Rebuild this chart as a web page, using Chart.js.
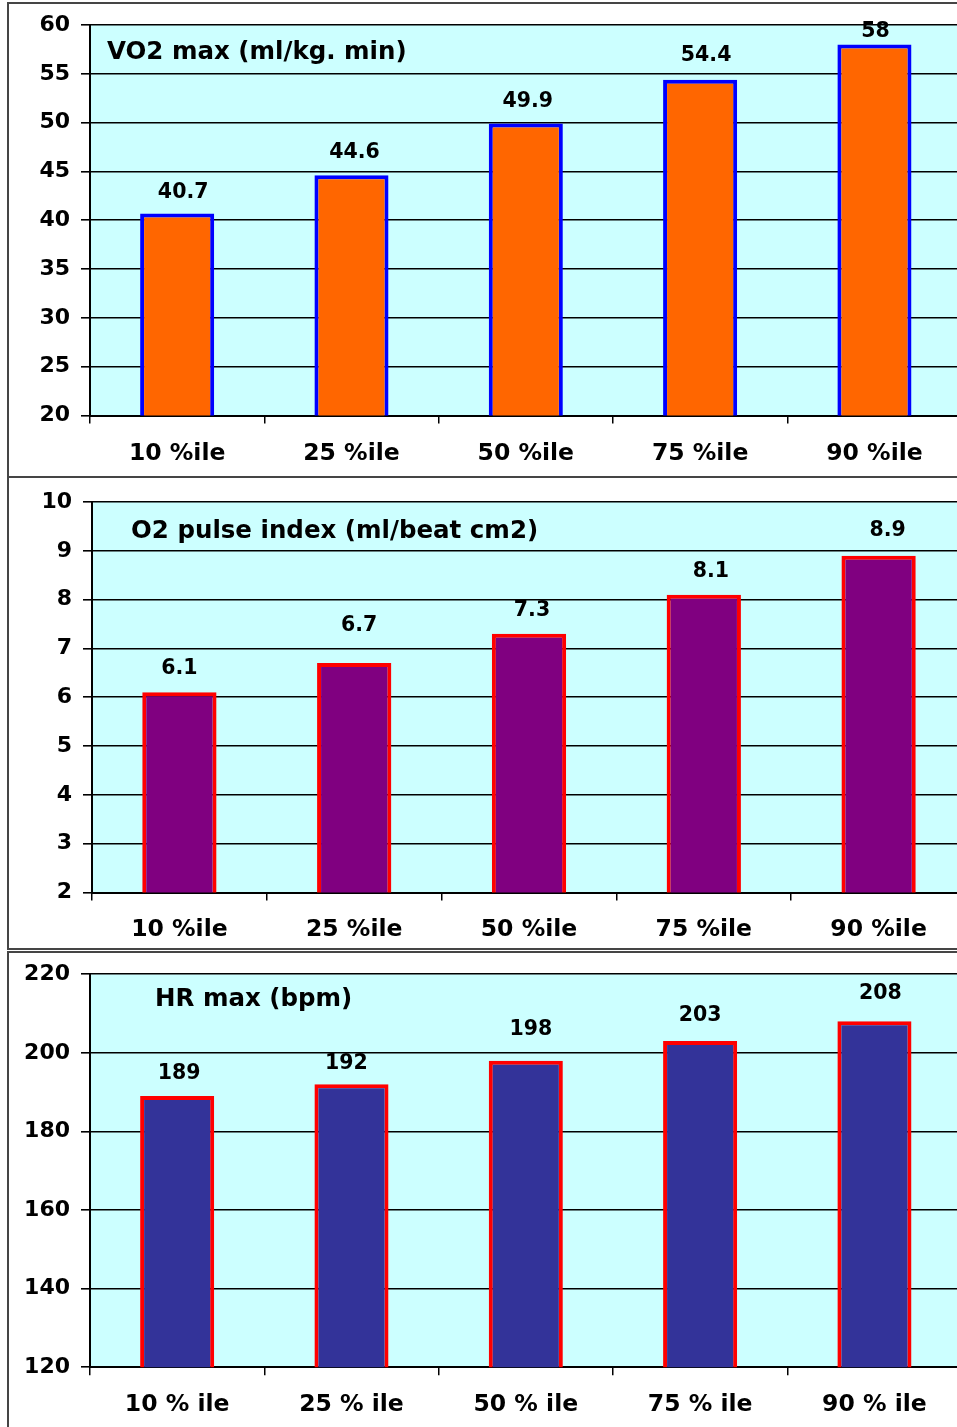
<!DOCTYPE html>
<html>
<head>
<meta charset="utf-8">
<title>Percentile charts</title>
<script src="https://cdn.jsdelivr.net/npm/chart.js@4.4.1/dist/chart.umd.min.js"></script>
<style>
  html, body { margin: 0; padding: 0; background: #fff; overflow: hidden; width: 957px; height: 1427px; }
  .frame { position: absolute; box-sizing: border-box; border: 2px solid #454545; left: 7px; width: 1000px; }
  canvas { position: absolute; left: 0; }
</style>
</head>
<body>
<div class="frame" style="top:2px;height:476px"></div>
<div class="frame" style="top:476px;height:474px"></div>
<div class="frame" style="top:951px;height:600px"></div>
<canvas id="vo2" width="975" height="476" style="top:0px"></canvas>
<canvas id="o2" width="975" height="474" style="top:476px"></canvas>
<canvas id="hr" width="975" height="477" style="top:950px"></canvas>
<script>
// ---- data ----
const percentileLabels = ['10 %ile', '25 %ile', '50 %ile', '75 %ile', '90 %ile'];
const percentileLabelsSpaced = ['10 % ile', '25 % ile', '50 % ile', '75 % ile', '90 % ile'];

const vo2Values = [40.7, 44.6, 49.9, 54.4, 58];
const o2PulseValues = [6.1, 6.7, 7.3, 8.1, 8.9];
const hrValues = [189, 192, 198, 203, 208];

// axis ranges: [min, max, step]
const vo2Axis = [20, 60, 5];
const o2PulseAxis = [2, 10, 1];
const hrAxis = [120, 220, 20];

const vo2Title = 'VO2 max (ml/kg. min)';
const o2PulseTitle = 'O2 pulse index (ml/beat cm2)';
const hrTitle = 'HR max (bpm)';

// ---- drawing helpers ----
const FONT = 'DejaVu Sans';
const CAP = 0.729; // cap-height ratio of the font

const plotBackground = {
  id: 'plotBackground',
  beforeDraw(chart, args, opts) {
    const { ctx, chartArea: a } = chart;
    ctx.save();
    ctx.fillStyle = opts.color;
    ctx.fillRect(a.left, a.top, a.right - a.left, a.bottom - a.top);
    ctx.restore();
  }
};

const plotCaption = {
  id: 'plotCaption',
  afterDatasetsDraw(chart, args, opts) {
    const { ctx } = chart;
    ctx.save();
    ctx.font = `bold ${opts.size}px "${FONT}"`;
    ctx.fillStyle = '#000';
    ctx.textAlign = 'left';
    ctx.textBaseline = 'alphabetic';
    ctx.fillText(opts.text, opts.x, opts.y + opts.size * CAP / 2);
    ctx.restore();
  }
};

const valueLabels = {
  id: 'valueLabels',
  afterDatasetsDraw(chart, args, opts) {
    const { ctx, chartArea } = chart;
    const meta = chart.getDatasetMeta(0);
    const values = chart.data.datasets[0].data;
    ctx.save();
    ctx.font = `bold ${opts.size}px "${FONT}"`;
    ctx.fillStyle = '#000';
    ctx.textAlign = 'center';
    ctx.textBaseline = 'alphabetic';
    meta.data.forEach((bar, i) => {
      const shift = opts.shift[i] || [0, 0];
      let cy = bar.y - opts.gap + shift[1];
      cy = Math.max(cy, chartArea.top + opts.minTop);
      ctx.fillText(String(values[i]), bar.x + shift[0], cy + opts.size * CAP / 2);
    });
    ctx.restore();
  }
};

function buildChart(id, spec) {
  const canvas = document.getElementById(id);
  const W = canvas.width, H = canvas.height;
  const xAxisH = 50;
  return new Chart(canvas, {
    type: 'bar',
    data: {
      labels: spec.labels,
      datasets: [{
        data: spec.values,
        backgroundColor: spec.fill,
        borderColor: spec.edge,
        borderWidth: 4,
        borderSkipped: false,
        barPercentage: 0.425,
        categoryPercentage: 1
      }]
    },
    options: {
      responsive: false,
      animation: false,
      devicePixelRatio: 1,
      layout: {
        padding: {
          left: 0,
          top: spec.area.top,
          right: W - spec.area.right,
          bottom: H - spec.area.bottom - xAxisH
        }
      },
      scales: {
        x: {
          afterFit(s) { s.height = xAxisH; },
          grid: {
            offset: true,
            drawOnChartArea: false,
            drawTicks: true,
            tickLength: 8,
            color: '#000',
            lineWidth: 1.5
          },
          border: { display: true, color: '#000', width: 2 },
          ticks: {
            color: '#000',
            padding: spec.xPad,
            maxRotation: 0,
            autoSkip: false,
            font: { family: FONT, weight: 'bold', size: 23.5 }
          }
        },
        y: {
          min: spec.axis[0],
          max: spec.axis[1],
          afterFit(s) { s.width = spec.area.left; },
          grid: {
            color: '#000',
            lineWidth: 1.6,
            tickLength: 9,
            drawTicks: true
          },
          border: { display: true, color: '#000', width: 2 },
          ticks: {
            stepSize: spec.axis[2],
            color: '#000',
            padding: 11,
            font: { family: FONT, weight: 'bold', size: 22 }
          }
        }
      },
      plugins: {
        legend: { display: false },
        tooltip: { enabled: false },
        plotBackground: { color: '#CCFFFF' },
        plotCaption: { text: spec.title, x: spec.titlePos[0], y: spec.titlePos[1], size: 24.5 },
        valueLabels: { size: 20.5, gap: spec.labelGap, minTop: 5, shift: spec.labelShift }
      }
    },
    plugins: [plotBackground, valueLabels, plotCaption]
  });
}

buildChart('vo2', {
  labels: percentileLabels,
  values: vo2Values,
  axis: vo2Axis,
  title: vo2Title,
  fill: '#FF6600',
  edge: '#0000FF',
  area: { left: 90, top: 25, right: 961.6, bottom: 415.5 },
  xPad: 16,
  titlePos: [107, 50.5],
  labelGap: 24,
  labelShift: [[6, 1], [3, -1], [2, 0], [6, -2], [1, 0]]
});

buildChart('o2', {
  labels: percentileLabels,
  values: o2PulseValues,
  axis: o2PulseAxis,
  title: o2PulseTitle,
  fill: '#800080',
  edge: '#FF0000',
  area: { left: 92, top: 26, right: 966, bottom: 416.5 },
  xPad: 15,
  titlePos: [131, 53],
  labelGap: 25,
  labelShift: [[0, -1], [5, -15], [3, 0], [7, 0], [9, -2]]
});

buildChart('hr', {
  labels: percentileLabelsSpaced,
  values: hrValues,
  axis: hrAxis,
  title: hrTitle,
  fill: '#333399',
  edge: '#FF0000',
  area: { left: 90, top: 20.7, right: 961.6, bottom: 417.2 },
  xPad: 16,
  titlePos: [155, 46.7],
  labelGap: 25,
  labelShift: [[2, 0], [-5, 2], [5, -8], [0, -2], [6, -5]]
});
</script>
</body>
</html>
